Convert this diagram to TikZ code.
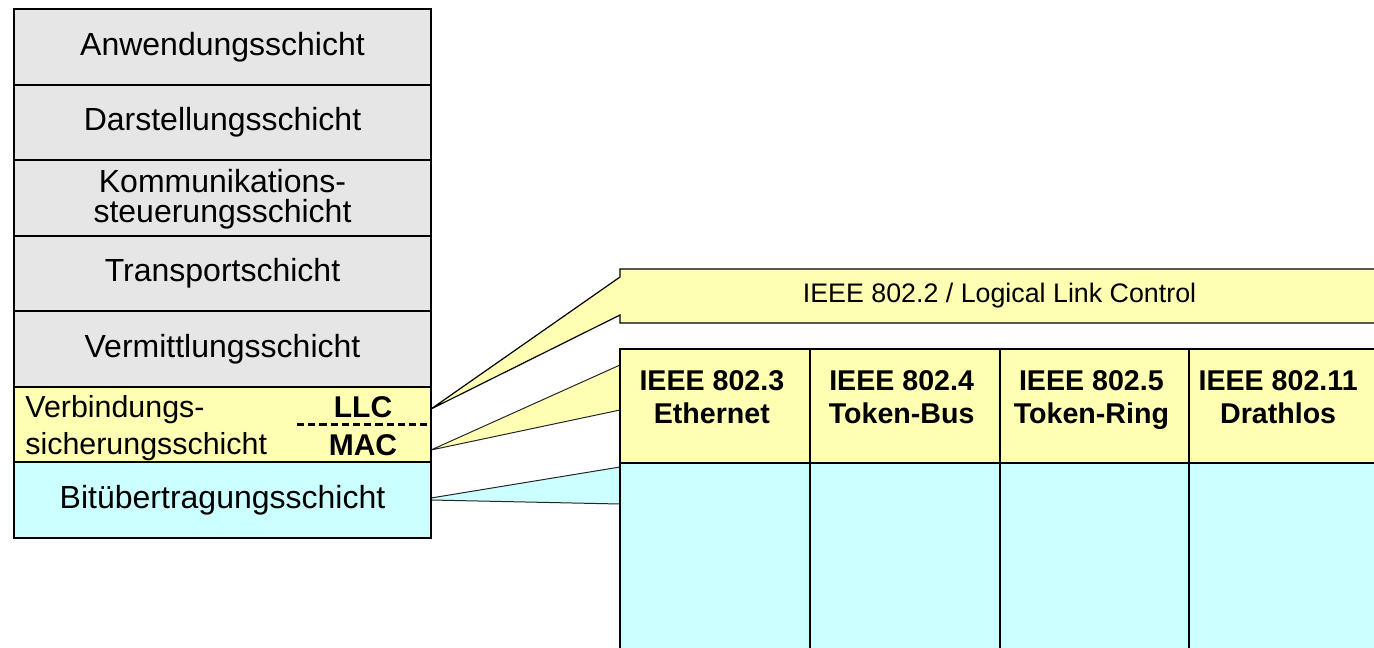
\documentclass[tikz,border=0pt]{standalone}
\usepackage{fontspec}
\setmainfont{Liberation Sans}
\usetikzlibrary{calc}
\definecolor{layergray}{HTML}{E6E6E6}
\definecolor{paleyellow}{HTML}{FFFFB3}
\definecolor{palecyan}{HTML}{CCFFFF}
\begin{document}
\begin{tikzpicture}[x=0.5pt,y=-0.5pt,
  layer/.style={draw=black, line width=1pt, minimum width=208.5pt,
    minimum height=37.785pt, inner sep=0pt, align=center,
    font=\fontsize{16}{19}\selectfont},
  cell/.style={draw=black, line width=1pt, minimum width=94.875pt, inner sep=0pt},
  celltext/.style={font=\bfseries\fontsize{14.3}{16.5}\selectfont, align=center,
    inner sep=0pt, anchor=north},
  sublayer/.style={font=\bfseries\fontsize{15}{18}\selectfont, inner sep=0pt},
  wedge/.style={draw=black!85, line width=0.5pt},
]
\useasboundingbox (0,0) rectangle (1374,647);
\clip (0,0) rectangle (1374,647);

% pointer tips on the right edge of the layer stack
\coordinate (tipLLC) at (431,409);
\coordinate (tipMAC) at (431,450);
\coordinate (tipPhyA) at (431,498);
\coordinate (tipPhyB) at (431,500);

% LLC callout with its pointer
\draw[line width=0.6pt, fill=paleyellow]
  (1379,269) -- (620,269) -- (620,277) -- (tipLLC) -- (620,315) -- (620,323) -- (1379,323);
\node[font=\fontsize{13.4}{16}\selectfont, inner sep=0pt] (ieee8022) at (999.5,296)
  {IEEE 802.2 / Logical Link Control};

% pointers to the MAC row and the physical row of the table
\draw[wedge, fill=paleyellow] (620,410) -- (tipMAC) -- (620,365);
\draw[wedge, fill=palecyan] (620,467) -- (tipPhyA) -- (tipPhyB) -- (620,504);

% OSI layer stack
\node[layer, fill=layergray] (l7) at (222.5,46.79) {Anwendungsschicht};
\node[layer, fill=layergray] (l6) at (222.5,122.36) {Darstellungsschicht};
\node[layer, fill=layergray] (l5) at (222.5,197.93) {};
\node[font=\fontsize{16}{14.8}\selectfont, align=center, inner sep=0pt] (l5text)
  at (222.5,199) {Kommunikations-\\steuerungsschicht};
\node[layer, fill=layergray] (l4) at (222.5,273.5) {Transportschicht};
\node[layer, fill=layergray] (l3) at (222.5,349.07) {Vermittlungsschicht};
\node[layer, fill=paleyellow] (l2) at (222.5,424.64) {};
\node[layer, fill=palecyan] (l1) at (222.5,500.21) {Bitübertragungsschicht};

\node[anchor=west, align=left, inner sep=0pt, font=\fontsize{15.2}{18.5}\selectfont]
  (l2text) at (25,428) {Verbindungs-\\sicherungsschicht};
\node[sublayer] (llc) at (363,407) {LLC};
\node[sublayer] (mac) at (363,445) {MAC};
\draw[line width=1.25pt, dash pattern=on 3.6pt off 2pt] (297,424.64) -- (l2.east);

% IEEE 802.x table: MAC row and physical row
\foreach \i/\cx in {1/714.875, 2/904.625, 3/1094.375, 4/1284.125} {
  \node[cell, fill=paleyellow, minimum height=56.75pt] (m\i) at (\cx,405.75) {};
  \node[cell, fill=palecyan, minimum height=118.75pt] (p\i) at (\cx,581.25) {};
}
\node[celltext] (t1) at ($(m1.north)+(-3,22)$) {IEEE 802.3\\Ethernet};
\node[celltext] (t2) at ($(m2.north)+(-3,22)$) {IEEE 802.4\\Token-Bus};
\node[celltext] (t3) at ($(m3.north)+(-3,22)$) {IEEE 802.5\\Token-Ring};
\node[celltext] (t4) at ($(m4.north)+(-6,22)$) {IEEE 802.11\\Drathlos};
\end{tikzpicture}
\end{document}
